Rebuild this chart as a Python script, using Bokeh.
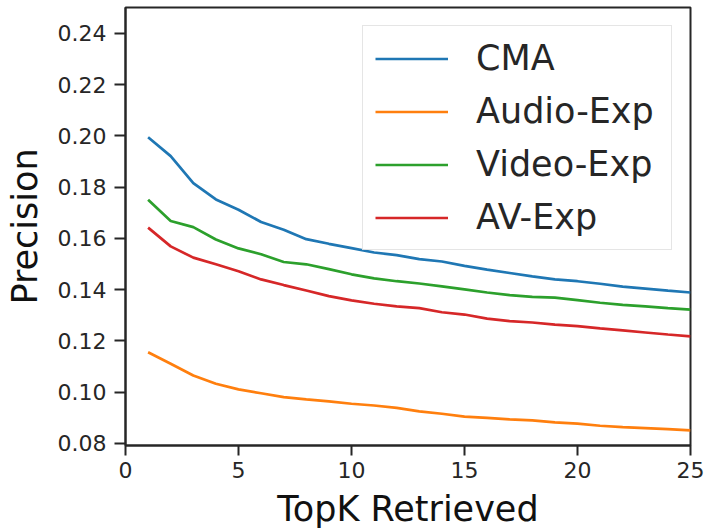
from bokeh.plotting import figure
from bokeh.models import Legend, LegendItem, FixedTicker, Range1d, NumeralTickFormatter
from bokeh.embed import file_html
from bokeh.resources import INLINE

topk = list(range(1, 26))
cma = [0.1995, 0.1921, 0.1816, 0.1752, 0.1712, 0.1664, 0.1634, 0.1597, 0.1579, 0.1562,
       0.1545, 0.1535, 0.1519, 0.1510, 0.1493, 0.1478, 0.1465, 0.1452, 0.1440, 0.1433,
       0.1423, 0.1412, 0.1404, 0.1396, 0.1389]
audio_exp = [0.1156, 0.1111, 0.1065, 0.1033, 0.1011, 0.0996, 0.0981, 0.0972, 0.0964, 0.0955,
             0.0948, 0.0939, 0.0925, 0.0916, 0.0905, 0.0900, 0.0894, 0.0890, 0.0882, 0.0877,
             0.0869, 0.0864, 0.0860, 0.0856, 0.0851]
video_exp = [0.1751, 0.1668, 0.1644, 0.1596, 0.1561, 0.1538, 0.1508, 0.1499, 0.1480, 0.1460,
             0.1444, 0.1433, 0.1424, 0.1413, 0.1401, 0.1389, 0.1379, 0.1372, 0.1369, 0.1359,
             0.1349, 0.1341, 0.1335, 0.1328, 0.1322]
av_exp = [0.1642, 0.1569, 0.1525, 0.1499, 0.1472, 0.1440, 0.1418, 0.1397, 0.1375, 0.1358,
          0.1345, 0.1335, 0.1328, 0.1312, 0.1303, 0.1287, 0.1277, 0.1272, 0.1264, 0.1258,
          0.1249, 0.1241, 0.1233, 0.1225, 0.1218]

series_names = ["CMA", "Audio-Exp", "Video-Exp", "AV-Exp"]
series_values = [cma, audio_exp, video_exp, av_exp]
series_colors = ["#1f77b4", "#ff7f0e", "#2ca02c", "#d62728"]

x_ticks = [0, 5, 10, 15, 20, 25]
y_ticks = [0.08, 0.10, 0.12, 0.14, 0.16, 0.18, 0.20, 0.22, 0.24]

FONT = "DejaVu Sans"
DARK = "#262626"

p = figure(width=704, height=531, output_backend="svg", toolbar_location=None,
           x_range=Range1d(0, 25), y_range=Range1d(0.0792, 0.2501),
           min_border_left=125, min_border_right=14, min_border_top=7, min_border_bottom=86)
p.background_fill_color = "white"
p.border_fill_color = "white"
p.xgrid.visible = False
p.ygrid.visible = False
p.outline_line_color = DARK
p.outline_line_width = 2
p.outline_line_alpha = 1.0

renderers = []
for name, vals, col in zip(series_names, series_values, series_colors):
    r = p.line(topk, vals, line_color=col, line_width=2.7)
    renderers.append((name, r))

for ax in (p.xaxis[0], p.yaxis[0]):
    ax.axis_line_color = DARK
    ax.axis_line_width = 2
    ax.major_tick_line_color = DARK
    ax.major_tick_line_width = 2
    ax.major_tick_in = 0
    ax.minor_tick_line_color = None
    ax.major_label_text_font = FONT
    ax.major_label_text_font_size = "22px"
    ax.major_label_text_color = DARK
    ax.axis_label_text_font = FONT
    ax.axis_label_text_font_size = "35px"
    ax.axis_label_text_font_style = "normal"
    ax.axis_label_text_color = "#111111"

p.xaxis.major_tick_out = 10
p.yaxis.major_tick_out = 11
p.xaxis.ticker = FixedTicker(ticks=x_ticks)
p.yaxis.ticker = FixedTicker(ticks=y_ticks)
p.yaxis.formatter = NumeralTickFormatter(format="0.00")
p.xaxis.major_label_standoff = 6
p.yaxis.major_label_standoff = 8
p.xaxis.axis_label = "TopK Retrieved"
p.yaxis.axis_label = "Precision"
p.xaxis.axis_label_standoff = 8
p.yaxis.axis_label_standoff = 10

legend = Legend(items=[LegendItem(label=n, renderers=[r]) for n, r in renderers],
                location="top_right")
legend.margin = 18
legend.padding = 12
legend.spacing = 13
legend.label_height = 39
legend.glyph_height = 39
legend.glyph_width = 73
legend.label_standoff = 28
legend.label_width = 183
legend.label_text_font = FONT
legend.label_text_font_size = "35px"
legend.label_text_color = DARK
legend.border_line_color = "#cccccc"
legend.border_line_width = 1.5
legend.background_fill_color = "white"
legend.background_fill_alpha = 0.8
p.add_layout(legend)

open("out.html", "w").write(file_html(p, INLINE))
